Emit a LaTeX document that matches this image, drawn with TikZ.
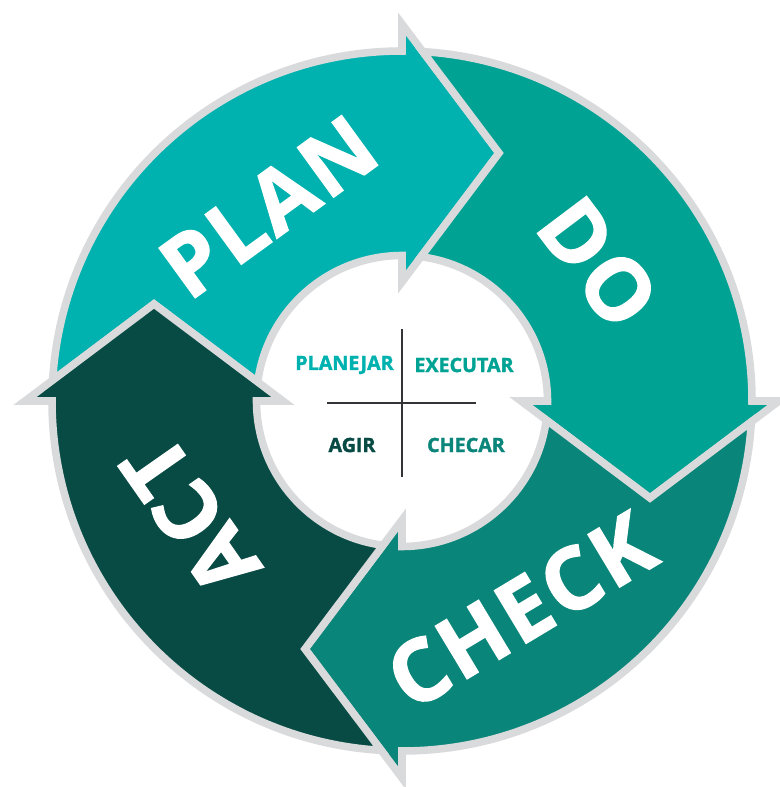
\documentclass[tikz,border=0pt]{standalone}
\usepackage{fontspec}
\setmainfont{Open Sans}
\newfontfamily\heavyfont[BoldFeatures={FakeBold=1.6}]{Open Sans}
\newfontfamily\wordfont[BoldFeatures={FakeBold=1.6, LetterSpace=3.5}]{Open Sans}
\definecolor{plancol}{HTML}{00B2AF}
\definecolor{docol}{HTML}{00A294}
\definecolor{checkcol}{HTML}{0A857A}
\definecolor{actcol}{HTML}{084B45}
\definecolor{rimcol}{HTML}{D9DADB}
\definecolor{crosscol}{HTML}{333338}

\begin{document}
\begin{tikzpicture}[x=0.02cm, y=0.02cm,
  seg/.style = {draw=rimcol, line width=4.3pt, line join=miter},
  big/.style = {text=white, font=\wordfont\fontsize{49}{50}\selectfont\bfseries, inner sep=0pt},
  small/.style = {font=\heavyfont\fontsize{11.2}{12}\selectfont\bfseries, inner sep=0pt},
  cross/.style = {draw=crosscol, line width=1.7pt}]
\useasboundingbox (-402,-386) rectangle (377,401);
% ring pieces, arrow head base at angle \a
\foreach \a/\c in {90/plancol, 0/docol, -90/checkcol, 180/actcol}
  \fill[\c, seg] ({\a+86.6}:350) arc[start angle=\a+86.6, end angle=\a, radius=350]
    -- (\a:377) -- ({\a-21.36}:266.3) -- (\a:119) -- (\a:145.5)
    arc[start angle=\a, end angle=\a+82.5, radius=145.5]
    -- ({\a+68.64}:266.3) -- cycle;
\node[big, rotate=36] (plan) at (124.5:236) {PLAN};
\node[big, rotate=-53] (do) at (35.2:240) {DO};
\node[big, rotate=31] (check) at (-60.5:241) {CHECK};
\node[big, rotate=125] (act) at (208.5:241) {ACT};
% centre
\coordinate (top) at (0,72);
\coordinate (bottom) at (0,-76);
\coordinate (left) at (-75,-2);
\coordinate (right) at (74,-2);
\draw[cross] (top) -- (bottom);
\draw[cross] (left) -- (right);
\node[small, text=plancol] (planejar) at (-57.5,36) {PLANEJAR};
\node[small, text=docol] (executar) at (62,36) {EXECUTAR};
\node[small, text=actcol] (agir) at (-50,-44) {AGIR};
\node[small, text=checkcol] (checar) at (64,-44) {CHECAR};
\end{tikzpicture}
\end{document}
